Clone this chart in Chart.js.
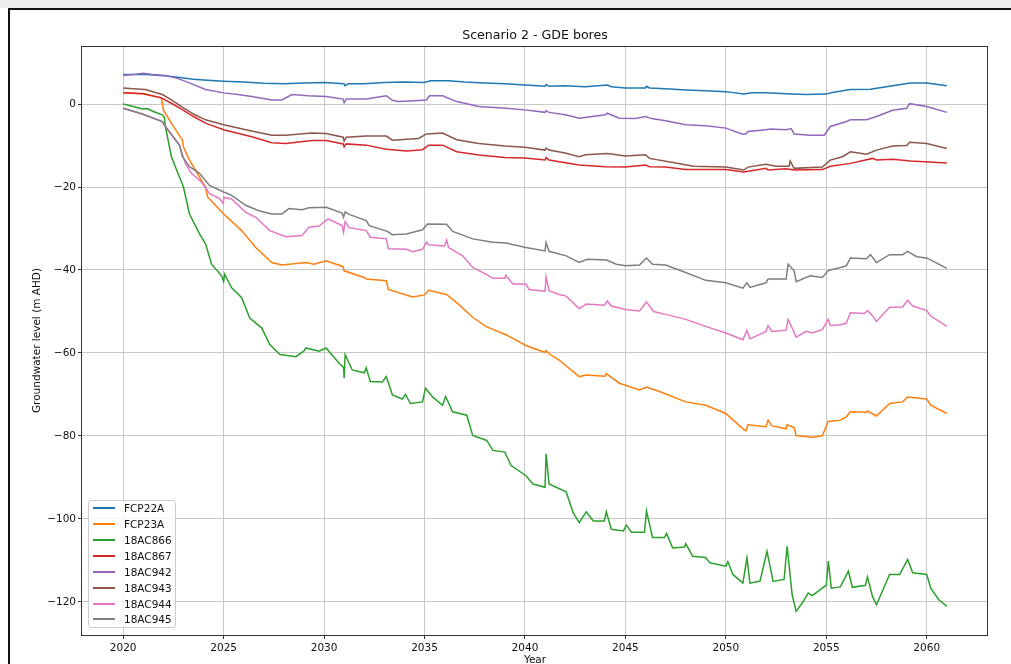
<!DOCTYPE html>
<html>
<head>
<meta charset="utf-8">
<script src="https://cdn.jsdelivr.net/npm/chart.js@4.4.1/dist/chart.umd.min.js"></script>
<style>
html, body { margin: 0; padding: 0; width: 1011px; height: 664px; overflow: hidden; background: #fff; font-family: 'DejaVu Sans', sans-serif; }
#topStrip { position: absolute; left: 0; top: 0; width: 1011px; height: 8px; background: #ececec; }
#frame { position: absolute; left: 8px; top: 8px; width: 1011px; height: 700px; border-top: 2px solid #111; border-left: 2px solid #111; }
#chart { position: absolute; left: 0; top: 0; }
#legend { position: absolute; left: 88px; top: 500px; width: 88px; height: 128px; border: 1px solid #cccccc; border-radius: 3px; background: rgba(255,255,255,0.8); box-sizing: border-box; }
.row { position: absolute; left: 0; height: 16px; width: 88px; }
.row .swatch { position: absolute; left: 4px; top: 7px; width: 22px; height: 2px; }
.row .label { position: absolute; left: 35px; top: 0; line-height: 16px; font-size: 10.5px; color: #111; white-space: nowrap; }
</style>
</head>
<body>
<div id="topStrip"></div>
<canvas id="chart" width="1011" height="690"></canvas>
<div id="frame"></div>
<div id="legend"></div>
<script>
var chartTitle = 'Scenario 2 - GDE bores';
var seriesNames = ['FCP22A', 'FCP23A', '18AC866', '18AC867', '18AC942', '18AC943', '18AC944', '18AC945'];
var seriesColors = ['#1f77b4', '#ff7f0e', '#2ca02c', '#d62728', '#9467bd', '#8c564b', '#e377c2', '#7f7f7f'];
var xTicks = [2020, 2025, 2030, 2035, 2040, 2045, 2050, 2055, 2060];
var yTicks = [-120, -100, -80, -60, -40, -20, 0];

var fcp22aYears = [
	2020.0, 2020.5, 2021.0, 2021.5, 2022.0, 2022.5, 2023.0, 2023.5, 2024.0, 2025.0,
	2026.0, 2027.0, 2028.0, 2029.0, 2030.0, 2031.0, 2031.05, 2031.2, 2032.0, 2033.0,
	2034.0, 2035.0, 2035.3, 2036.2, 2037.0, 2038.0, 2039.0, 2040.0, 2041.0, 2041.05,
	2041.2, 2042.0, 2043.0, 2044.1, 2044.3, 2045.0, 2046.0, 2046.05, 2046.2, 2047.0,
	2048.0, 2049.0, 2050.0, 2050.9, 2051.3, 2052.0, 2053.0, 2054.0, 2055.0, 2055.3,
	2056.2, 2057.2, 2058.3, 2059.2, 2060.0, 2061.0];
var fcp22aLevels = [
	7.1, 7.1, 7.2, 7.0, 6.8, 6.6, 6.3, 6.0, 5.8, 5.5,
	5.3, 5.0, 4.9, 5.1, 5.2, 4.9, 4.4, 4.9, 4.9, 5.2,
	5.3, 5.2, 5.6, 5.6, 5.3, 5.1, 4.9, 4.6, 4.3, 4.7,
	4.3, 4.4, 4.2, 4.6, 4.2, 3.9, 3.9, 4.3, 3.9, 3.7,
	3.4, 3.2, 3.0, 2.4, 2.7, 2.7, 2.5, 2.3, 2.4, 2.8,
	3.5, 3.6, 4.4, 5.1, 5.1, 4.4];

var fcp23aYears = [
	2020.0, 2021.0, 2021.9, 2022.0, 2022.45, 2022.95, 2023.0, 2023.3, 2023.8, 2024.1,
	2024.2, 2025.0, 2025.9, 2026.6, 2027.4, 2027.9, 2028.5, 2029.1, 2029.5, 2030.1,
	2030.95, 2031.0, 2032.0, 2032.1, 2033.1, 2033.2, 2034.4, 2035.0, 2035.2, 2036.1,
	2036.7, 2037.4, 2038.05, 2039.05, 2040.05, 2041.0, 2041.05, 2041.2, 2041.7, 2042.7,
	2043.05, 2044.0, 2044.05, 2044.7, 2045.7, 2046.05, 2046.7, 2048.0, 2049.0, 2050.0,
	2050.85, 2051.0, 2051.1, 2052.0, 2052.1, 2052.3, 2053.0, 2053.05, 2053.4, 2053.5,
	2054.3, 2054.8, 2055.1, 2055.7, 2056.0, 2056.2, 2057.0, 2057.05, 2057.5, 2058.15,
	2058.8, 2059.05, 2060.0, 2060.2, 2061.0];
var fcp23aLevels = [
	2.7, 2.5, 1.5, -1.4, -5.0, -8.7, -10.3, -13.5, -17.6, -20.0,
	-22.4, -26.5, -30.5, -34.6, -38.2, -38.8, -38.5, -38.2, -38.6, -37.8,
	-39.2, -40.2, -41.8, -42.2, -42.6, -44.7, -46.5, -46.0, -44.9, -45.9,
	-48.3, -51.4, -53.6, -55.6, -58.2, -59.9, -59.4, -60.2, -61.7, -65.7,
	-65.3, -65.6, -65.0, -67.3, -68.9, -68.2, -69.3, -71.8, -72.6, -74.6,
	-78.3, -78.8, -77.3, -77.8, -76.2, -77.6, -78.3, -77.3, -78.0, -79.9,
	-80.3, -80.0, -76.5, -76.2, -75.4, -74.2, -74.3, -74.0, -75.2, -72.2,
	-71.8, -70.6, -71.1, -72.6, -74.6];

var ac866Years = [
	2020.0, 2020.5, 2020.95, 2021.2, 2021.5, 2021.95, 2022.05, 2022.1, 2022.4, 2022.8,
	2023.0, 2023.3, 2023.8, 2024.1, 2024.4, 2024.9, 2025.0, 2025.05, 2025.4, 2025.9,
	2026.3, 2026.9, 2027.3, 2027.8, 2028.6, 2029.0, 2029.1, 2029.75, 2030.1, 2030.75,
	2030.97, 2031.0, 2031.05, 2031.4, 2032.0, 2032.1, 2032.3, 2032.9, 2033.1, 2033.4,
	2033.9, 2034.05, 2034.3, 2034.9, 2035.05, 2035.4, 2035.9, 2036.05, 2036.4, 2037.1,
	2037.4, 2038.1, 2038.4, 2039.0, 2039.3, 2040.05, 2040.4, 2041.0, 2041.05, 2041.2,
	2042.05, 2042.4, 2042.7, 2043.05, 2043.4, 2043.95, 2044.05, 2044.3, 2044.9, 2045.05,
	2045.3, 2045.95, 2046.05, 2046.35, 2046.95, 2047.05, 2047.35, 2047.95, 2048.0, 2048.35,
	2049.0, 2049.2, 2050.0, 2050.1, 2050.35, 2050.85, 2051.05, 2051.2, 2051.7, 2052.05,
	2052.35, 2052.9, 2053.05, 2053.3, 2053.5, 2053.8, 2054.1, 2054.3, 2054.8, 2055.0,
	2055.1, 2055.25, 2055.7, 2056.1, 2056.3, 2056.95, 2057.05, 2057.3, 2057.5, 2058.15,
	2058.65, 2059.05, 2059.3, 2060.0, 2060.2, 2060.6, 2061.0];
var ac866Levels = [
	0.0, -0.6, -1.2, -1.1, -1.8, -2.6, -3.2, -5.4, -12.7, -17.6,
	-20.0, -26.5, -31.3, -33.7, -38.6, -41.4, -42.8, -41.0, -44.3, -46.7,
	-51.6, -54.0, -58.0, -60.4, -60.9, -59.5, -58.8, -59.6, -58.8, -62.5,
	-63.5, -66.1, -60.4, -64.1, -64.8, -63.6, -66.9, -67.0, -65.7, -70.1,
	-71.1, -70.0, -72.2, -71.8, -68.5, -70.6, -72.6, -70.5, -74.2, -75.0,
	-79.9, -81.1, -83.5, -83.9, -87.1, -89.6, -91.6, -92.4, -84.3, -91.6,
	-93.5, -98.5, -100.9, -98.3, -100.5, -100.5, -98.3, -102.5, -102.9, -101.5,
	-103.2, -103.2, -98.1, -104.5, -104.5, -103.5, -107.0, -106.8, -106.0, -109.0,
	-109.3, -110.6, -111.4, -110.3, -113.4, -115.5, -109.4, -115.5, -115.0, -107.8,
	-115.1, -114.6, -106.6, -118.3, -122.3, -120.3, -117.9, -118.5, -116.7, -116.0,
	-110.2, -116.7, -116.4, -112.6, -116.5, -116.0, -114.0, -118.7, -120.7, -113.4,
	-113.4, -109.8, -113.0, -113.4, -116.7, -119.5, -121.1];

var ac867Years = [
	2020.0, 2021.0, 2021.9, 2022.4, 2022.9, 2023.5, 2024.1, 2025.0, 2026.4, 2027.4,
	2028.1, 2029.4, 2030.1, 2030.95, 2031.0, 2031.1, 2032.1, 2033.1, 2034.1, 2034.9,
	2035.2, 2035.9, 2036.6, 2037.7, 2039.0, 2040.0, 2041.0, 2041.05, 2041.2, 2042.7,
	2044.0, 2045.0, 2046.0, 2046.2, 2047.0, 2048.0, 2050.0, 2050.9, 2052.0, 2052.1,
	2053.0, 2053.4, 2054.8, 2055.2, 2056.2, 2057.3, 2057.5, 2058.3, 2059.2, 2061.0];
var ac867Levels = [
	2.7, 2.5, 1.5, 0.2, -1.2, -3.0, -4.6, -6.2, -7.9, -9.3,
	-9.5, -8.8, -8.8, -9.6, -10.3, -9.6, -9.9, -10.9, -11.3, -11.0,
	-9.9, -9.9, -11.5, -12.3, -12.9, -13.0, -13.5, -12.9, -13.5, -14.7,
	-15.1, -15.2, -14.7, -15.1, -15.2, -15.8, -15.8, -16.4, -15.5, -15.9,
	-15.6, -15.9, -15.8, -15.0, -14.3, -13.1, -13.5, -13.3, -13.7, -14.2];

var ac942Years = [
	2020.0, 2020.5, 2021.0, 2021.5, 2022.1, 2022.7, 2023.3, 2024.1, 2025.0, 2025.7,
	2026.4, 2027.4, 2027.9, 2028.4, 2029.2, 2030.1, 2030.95, 2031.0, 2031.1, 2032.1,
	2033.1, 2033.4, 2033.7, 2034.5, 2035.1, 2035.25, 2035.9, 2036.6, 2037.7, 2039.05,
	2040.0, 2041.0, 2041.05, 2041.2, 2042.0, 2042.7, 2044.0, 2044.1, 2044.7, 2045.5,
	2046.0, 2046.3, 2047.0, 2048.0, 2049.0, 2050.0, 2050.8, 2051.0, 2051.1, 2052.0,
	2052.2, 2053.0, 2053.25, 2053.4, 2054.2, 2054.9, 2055.2, 2056.0, 2056.2, 2057.0,
	2057.5, 2058.3, 2059.0, 2059.15, 2060.0, 2061.0];
var ac942Levels = [
	6.9, 7.1, 7.4, 7.1, 6.9, 6.2, 5.1, 3.5, 2.7, 2.3,
	1.8, 1.0, 1.0, 2.3, 2.0, 1.8, 1.2, 0.3, 1.2, 1.2,
	2.0, 0.9, 0.6, 0.8, 1.0, 2.0, 2.0, 0.6, -0.6, -1.0,
	-1.4, -2.0, -1.6, -2.0, -2.6, -3.4, -2.6, -2.2, -3.4, -3.5,
	-3.0, -3.5, -4.0, -5.0, -5.2, -5.8, -7.2, -7.2, -6.6, -6.2,
	-6.0, -6.2, -5.9, -7.2, -7.5, -7.5, -5.4, -4.2, -3.8, -3.8,
	-3.0, -1.5, -1.0, 0.1, -0.6, -2.0];

var ac943Years = [
	2020.0, 2020.5, 2021.1, 2021.95, 2022.4, 2022.9, 2023.5, 2024.1, 2025.0, 2026.1,
	2027.4, 2028.1, 2029.4, 2030.1, 2030.95, 2031.0, 2031.1, 2032.1, 2033.1, 2033.4,
	2034.7, 2035.1, 2035.9, 2036.6, 2037.7, 2039.0, 2040.0, 2041.0, 2041.05, 2041.2,
	2042.0, 2042.7, 2043.0, 2044.1, 2045.0, 2046.0, 2046.2, 2047.3, 2048.4, 2050.0,
	2050.9, 2051.1, 2052.0, 2052.5, 2053.15, 2053.2, 2053.4, 2054.8, 2055.2, 2055.8,
	2056.2, 2057.0, 2057.5, 2058.3, 2059.0, 2059.15, 2060.0, 2061.0];
var ac943Levels = [
	3.9, 3.7, 3.5, 2.3, 1.0, -0.6, -2.4, -3.8, -5.0, -6.2,
	-7.5, -7.5, -7.0, -7.1, -8.0, -9.0, -8.0, -7.7, -7.7, -8.7,
	-8.3, -7.2, -7.0, -8.6, -9.5, -10.1, -10.4, -11.1, -10.6, -11.1,
	-11.8, -12.7, -12.2, -11.9, -12.5, -12.2, -13.1, -14.0, -15.0, -15.2,
	-15.9, -15.2, -14.5, -15.0, -15.0, -13.7, -15.5, -15.2, -13.5, -12.7,
	-11.5, -12.1, -11.1, -10.1, -10.0, -9.2, -9.5, -10.7];

var ac944Years = [
	2020.0, 2020.95, 2021.95, 2022.1, 2022.8, 2023.1, 2023.4, 2023.9, 2024.3, 2024.8,
	2024.98, 2025.02, 2025.4, 2026.1, 2026.6, 2027.3, 2028.1, 2028.9, 2029.25, 2029.75,
	2030.2, 2030.9, 2030.97, 2031.05, 2031.25, 2032.1, 2032.3, 2033.1, 2033.2, 2034.1,
	2034.4, 2034.9, 2035.1, 2035.2, 2036.0, 2036.1, 2036.2, 2036.9, 2037.4, 2038.05,
	2038.4, 2039.0, 2039.05, 2039.4, 2040.05, 2040.2, 2041.0, 2041.05, 2041.2, 2041.7,
	2042.05, 2042.7, 2043.05, 2043.95, 2044.1, 2044.3, 2045.0, 2045.7, 2046.05, 2046.4,
	2047.0, 2048.0, 2049.0, 2050.0, 2050.85, 2051.05, 2051.2, 2052.0, 2052.1, 2052.3,
	2053.0, 2053.1, 2053.4, 2053.5, 2054.0, 2054.3, 2054.8, 2055.1, 2055.2, 2055.7,
	2056.0, 2056.2, 2056.9, 2057.05, 2057.3, 2057.5, 2058.15, 2058.8, 2059.05, 2059.3,
	2060.0, 2060.2, 2061.0];
var ac944Levels = [
	-1.0, -2.4, -4.2, -5.4, -9.9, -14.3, -16.7, -18.8, -21.6, -22.8,
	-24.0, -22.5, -22.9, -26.1, -27.3, -30.5, -32.0, -31.7, -29.7, -29.4,
	-27.7, -29.3, -30.9, -28.3, -29.8, -30.5, -32.1, -32.5, -34.9, -35.0,
	-35.6, -35.0, -33.3, -33.9, -34.2, -32.8, -34.6, -36.6, -39.4, -41.0,
	-42.0, -42.0, -41.3, -43.4, -43.4, -44.7, -45.1, -41.7, -45.0, -45.9,
	-46.3, -49.3, -48.2, -48.5, -47.5, -48.7, -49.5, -49.9, -47.7, -50.0,
	-50.7, -51.9, -53.6, -55.2, -56.8, -54.6, -56.6, -54.8, -53.4, -54.8,
	-54.5, -51.9, -55.0, -56.2, -54.8, -55.2, -54.4, -51.9, -53.4, -53.2,
	-52.8, -50.3, -50.5, -49.8, -51.0, -52.4, -49.0, -48.9, -47.3, -48.7,
	-49.8, -51.1, -53.6];

var ac945Years = [
	2020.0, 2020.95, 2021.95, 2022.1, 2022.8, 2022.95, 2023.3, 2023.8, 2024.3, 2025.0,
	2025.4, 2026.1, 2026.75, 2027.4, 2027.9, 2028.25, 2028.9, 2029.25, 2030.1, 2030.9,
	2030.97, 2031.05, 2031.25, 2032.1, 2032.25, 2033.15, 2033.4, 2034.1, 2034.9, 2035.15,
	2036.1, 2036.4, 2037.4, 2038.4, 2039.05, 2040.05, 2041.0, 2041.05, 2041.2, 2042.05,
	2042.7, 2043.1, 2044.05, 2044.55, 2045.0, 2045.7, 2046.05, 2046.35, 2047.0, 2048.0,
	2049.0, 2050.0, 2050.85, 2051.05, 2051.2, 2052.0, 2052.1, 2053.0, 2053.1, 2053.4,
	2053.5, 2054.2, 2054.8, 2055.1, 2055.7, 2056.0, 2056.2, 2057.0, 2057.2, 2057.5,
	2058.15, 2058.8, 2059.05, 2059.5, 2060.0, 2061.0];
var ac945Levels = [
	-1.0, -2.4, -4.2, -5.4, -9.9, -12.7, -15.1, -16.7, -19.6, -21.2,
	-22.0, -24.4, -25.7, -26.5, -26.5, -25.2, -25.5, -25.0, -24.9, -26.3,
	-27.3, -26.0, -26.6, -28.1, -29.3, -30.7, -31.5, -31.3, -30.3, -28.9,
	-29.0, -30.7, -32.5, -33.3, -33.5, -34.6, -35.4, -33.4, -35.5, -36.6,
	-38.2, -37.4, -37.6, -38.6, -39.0, -38.8, -37.1, -38.6, -38.8, -40.6,
	-42.5, -43.1, -44.4, -43.1, -44.2, -43.1, -42.2, -42.2, -38.6, -40.2,
	-42.8, -41.4, -41.8, -40.1, -39.4, -39.0, -37.1, -37.3, -36.3, -38.2,
	-36.3, -36.3, -35.5, -36.8, -37.1, -39.6];

var seriesYears = [fcp22aYears, fcp23aYears, ac866Years, ac867Years, ac942Years, ac943Years, ac944Years, ac945Years];
var seriesLevels = [fcp22aLevels, fcp23aLevels, ac866Levels, ac867Levels, ac942Levels, ac943Levels, ac944Levels, ac945Levels];

var fontFamily = "'DejaVu Sans', sans-serif";

function minusLabel(v) {
	return v < 0 ? '\u2212' + Math.abs(v) : String(v);
}

var datasets = [];
for (var i = 0; i < seriesNames.length; i++) {
	var years = seriesYears[i];
	var levels = seriesLevels[i];
	if (years.length != levels.length) {
		console.error(seriesNames[i] + ' length mismatch ' + years.length + ' ' + levels.length);
	}
	var points = [];
	for (var j = 0; j < years.length && j < levels.length; j++) {
		points.push({ x: years[j], y: levels[j] });
	}
	datasets.push({
		label: seriesNames[i],
		data: points,
		borderColor: seriesColors[i],
		backgroundColor: seriesColors[i],
		borderWidth: 1.5,
		pointRadius: 0,
		tension: 0,
		fill: false,
		order: -i // later series drawn on top, as matplotlib does
	});
}

// axes spines on all four sides, title centred over the axes
var framePlugin = {
	id: 'frameAndTitle',
	afterDatasetsDraw: function (chart) {
		var a = chart.chartArea;
		var c = chart.ctx;
		c.save();
		c.strokeStyle = '#333';
		c.lineWidth = 1;
		c.strokeRect(Math.round(a.left) - 0.5, Math.round(a.top) + 0.5, Math.round(a.right - a.left), Math.round(a.bottom - a.top));
		c.fillStyle = '#111';
		c.font = '12.6px ' + fontFamily;
		c.textAlign = 'center';
		c.textBaseline = 'middle';
		c.fillText(chartTitle, (a.left + a.right) / 2, 36);
		c.restore();
	}
};

new Chart(document.getElementById('chart'), {
	type: 'line',
	data: { datasets: datasets },
	options: {
		responsive: false,
		animation: false,
		layout: { padding: { left: 0, right: 23, top: 46, bottom: 0 } },
		plugins: {
			legend: { display: false },
			tooltip: { enabled: false },
			title: { display: false }
		},
		scales: {
			x: {
				type: 'linear',
				min: 2017.95,
				max: 2063.05,
				afterBuildTicks: function (scale) {
					scale.ticks = xTicks.map(function (v) { return { value: v }; });
				},
				afterFit: function (scale) { scale.height = 55; },
				border: { display: false },
				grid: { color: '#c8c8c8', lineWidth: 1, tickColor: '#333', tickLength: 4 },
				ticks: {
					color: '#111',
					font: { family: fontFamily, size: 10.5 },
					padding: 3,
					maxRotation: 0,
					callback: function (v) { return String(v); }
				},
				title: {
					display: true,
					text: 'Year',
					color: '#111',
					font: { family: fontFamily, size: 10.5 },
					padding: { top: 0, bottom: 23 }
				}
			},
			y: {
				type: 'linear',
				min: -128,
				max: 14,
				afterBuildTicks: function (scale) {
					scale.ticks = yTicks.map(function (v) { return { value: v }; });
				},
				afterFit: function (scale) { scale.width = 82; },
				border: { display: false },
				grid: { color: '#c8c8c8', lineWidth: 1, tickColor: '#333', tickLength: 4 },
				ticks: {
					color: '#111',
					font: { family: fontFamily, size: 10.5 },
					padding: 2,
					callback: minusLabel
				},
				title: {
					display: true,
					text: 'Groundwater level (m AHD)',
					color: '#111',
					font: { family: fontFamily, size: 10.5 },
					padding: { top: 31, bottom: 0 }
				}
			}
		}
	},
	plugins: [framePlugin]
});

// legend inside the axes, lower left
var legend = document.getElementById('legend');
for (var k = 0; k < seriesNames.length; k++) {
	var row = document.createElement('div');
	row.className = 'row';
	row.style.top = (0.4 + 15.86 * k - 1) + 'px';
	var swatch = document.createElement('span');
	swatch.className = 'swatch';
	swatch.style.background = seriesColors[k];
	var label = document.createElement('span');
	label.className = 'label';
	label.textContent = seriesNames[k];
	row.appendChild(swatch);
	row.appendChild(label);
	legend.appendChild(row);
}
</script>
</body>
</html>
